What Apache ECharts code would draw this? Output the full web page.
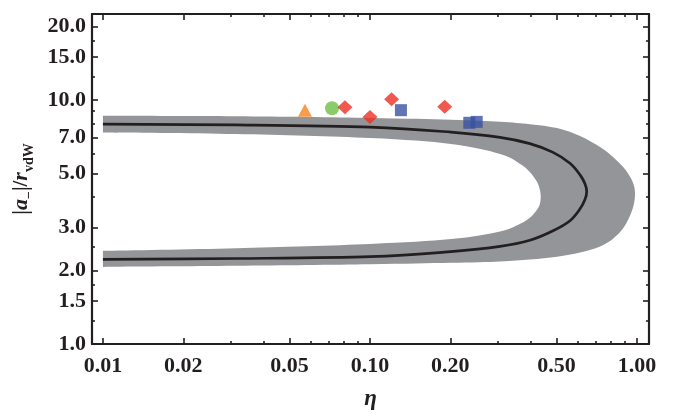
<!DOCTYPE html>
<html><head><meta charset="utf-8">
<script src="https://cdn.jsdelivr.net/npm/echarts@6/dist/echarts.min.js"></script>
<style>html,body{margin:0;padding:0;background:#fff}#c{width:678px;height:416px}</style>
</head><body><div id="c"></div>
<script>
// ---- axis ticks ----
const xTicks = [0.01, 0.02, 0.05, 0.1, 0.2, 0.5, 1.0];
const xMinor = [0.03, 0.04, 0.06, 0.07, 0.08, 0.09, 0.3, 0.4, 0.6, 0.7, 0.8, 0.9];
const yTicks = [1.0, 1.5, 2.0, 3.0, 5.0, 7.0, 10.0, 15.0, 20.0];
const yMinor = [1.25, 1.75, 2.5, 4.0, 6.0, 8.0, 9.0, 12.5, 17.5];
const xRange = [0.0091, 1.109];
const yRange = [1.0, 22.5];

// ---- black curve (upper branch left->right, lower branch right->left) ----
const lineUpper = [[0.01,7.96],[0.0315,7.90],[0.1,7.74],[0.201,7.38],[0.307,7.02],[0.397,6.62],[0.485,6.10],[0.561,5.50],[0.612,4.93],[0.639,4.52],[0.648,4.21]];
const lineLower = [[0.639,3.92],[0.612,3.58],[0.561,3.20],[0.485,2.91],[0.397,2.66],[0.307,2.51],[0.201,2.39],[0.1,2.28],[0.0315,2.24],[0.01,2.22]];

// ---- grey band boundaries ----
const outerUpper = [[0.01,8.61],[0.0315,8.57],[0.1,8.44],[0.201,8.30],[0.307,8.15],[0.397,7.96],[0.502,7.67],[0.612,7.11],[0.727,6.41],[0.813,5.84],[0.886,5.32],[0.942,4.84],[0.974,4.45],[0.983,4.13]];
const outerLower = [[0.974,3.76],[0.942,3.36],[0.886,2.97],[0.813,2.70],[0.727,2.51],[0.612,2.37],[0.502,2.28],[0.397,2.22],[0.307,2.18],[0.201,2.15],[0.1,2.12],[0.0315,2.09],[0.01,2.07]];
const innerUpper = [[0.01,7.36],[0.0315,7.25],[0.1,6.98],[0.201,6.60],[0.307,6.01],[0.365,5.47],[0.397,5.07],[0.422,4.62],[0.433,4.28],[0.436,4.01]];
const innerLower = [[0.433,3.76],[0.422,3.55],[0.397,3.29],[0.365,3.11],[0.307,2.89],[0.201,2.69],[0.1,2.57],[0.0315,2.47],[0.01,2.41]];

// ---- measured points ----
const ptsTriangle = [[0.0571,9.08]];
const ptsCircle = [[0.0721,9.25]];
const ptsDiamond = [[0.0806,9.34],[0.100,8.52],[0.1205,10.06],[0.1905,9.37]];
const ptsSquare = [[0.1306,9.08],[0.2355,8.06],[0.251,8.13]];

const curve = lineUpper.concat(lineLower);
const outerPath = outerUpper.concat(outerLower);
const innerPath = innerUpper.concat(innerLower).reverse();

const INK = '#231f20';
const labelFont = {fontFamily:'Liberation Serif', fontWeight:'bold', fontSize:22, color:INK};

function mkAxis(kind, pos, vals, len, showLabel, showLine, fmt, range){
  return {
    type:'log', logBase:10, position:pos, min:range[0], max:range[1],
    axisLine:{show:showLine, onZero:false, lineStyle:{color:INK, width:2.2}},
    axisTick:{show:true, inside:true, length:len, customValues:vals, lineStyle:{color:INK, width:1.6}},
    axisLabel:Object.assign({show:showLabel, customValues:vals, margin: kind==='x'?11:6, formatter:(v)=>Number(v).toFixed(fmt)}, labelFont),
    splitLine:{show:false}, minorTick:{show:false}, minorSplitLine:{show:false}
  };
}

const xAxes = [
  Object.assign(mkAxis('x','bottom',xTicks,6,true,true,2,xRange),{name:'η',nameLocation:'middle',nameGap:44,
    nameTextStyle:{fontFamily:'Liberation Serif',fontStyle:'italic',fontWeight:'bold',fontSize:23,color:INK}}),
  mkAxis('x','bottom',xMinor,3,false,false,2,xRange),
  mkAxis('x','top',xTicks,6,false,true,2,xRange),
  mkAxis('x','top',xMinor,3,false,false,2,xRange)
];
const yAxes = [
  Object.assign(mkAxis('y','left',yTicks,6,true,true,1,yRange),{name:'|{a|a}{s|−}|/{a|r}{s|vdW}',nameLocation:'middle',nameGap:50,
    nameTextStyle:{fontFamily:'Liberation Serif',fontWeight:'bold',fontSize:21,color:INK,
      rich:{a:{fontFamily:'Liberation Serif',fontStyle:'italic',fontWeight:'bold',fontSize:22,color:INK},
            s:{fontFamily:'Liberation Serif',fontWeight:'bold',fontSize:14,color:INK,verticalAlign:'bottom',padding:[0,0,-4,0]}}}}),
  mkAxis('y','left',yMinor,3,false,false,1,yRange),
  mkAxis('y','right',yTicks,6,false,true,1,yRange),
  mkAxis('y','right',yMinor,3,false,false,1,yRange)
];

// Catmull-Rom through pixel points -> cubic bezier path segments
function crSegs(p){
  let d='';
  for(let i=0;i<p.length-1;i++){
    const p0=p[i-1]||p[i], p1=p[i], p2=p[i+1], p3=p[i+2]||p[i+1];
    const c1=[p1[0]+(p2[0]-p0[0])/6, p1[1]+(p2[1]-p0[1])/6];
    const c2=[p2[0]-(p3[0]-p1[0])/6, p2[1]-(p3[1]-p1[1])/6];
    d+=' C'+c1[0].toFixed(2)+' '+c1[1].toFixed(2)+' '+c2[0].toFixed(2)+' '+c2[1].toFixed(2)+' '+p2[0].toFixed(2)+' '+p2[1].toFixed(2);
  }
  return d;
}

const chart = echarts.init(document.getElementById('c'), null, {renderer:'canvas'});
chart.setOption({
  animation:false,
  backgroundColor:'#fff',
  grid:{left:92, right:29, top:14, bottom:70, containLabel:false},
  xAxis:xAxes,
  yAxis:yAxes,
  series:[
    {type:'custom', xAxisIndex:0, yAxisIndex:0, data:outerPath, encode:{x:0,y:1}, z:1, silent:true,
     renderItem:function(params, api){
       if(params.dataIndex!==0) return null;
       const o = outerPath.map(p=>api.coord(p));
       const n = innerPath.map(p=>api.coord(p));
       const d = 'M'+o[0][0]+' '+o[0][1]+crSegs(o)+' L'+n[0][0]+' '+n[0][1]+crSegs(n)+' Z';
       return {type:'path', shape:{pathData:d}, style:{fill:'#939598', stroke:null}};
     }},
    {type:'custom', xAxisIndex:0, yAxisIndex:0, data:curve, encode:{x:0,y:1}, z:3, silent:true,
     renderItem:function(params, api){
       if(params.dataIndex!==0) return null;
       const c = curve.map(p=>api.coord(p));
       const d = 'M'+c[0][0]+' '+c[0][1]+crSegs(c);
       return {type:'path', shape:{pathData:d}, style:{fill:null, stroke:INK, lineWidth:2.7, lineJoin:'round'}};
     }},
    {type:'scatter', data:ptsTriangle, symbol:'triangle', symbolSize:[14,13], itemStyle:{color:'#f58220'}, z:5},
    {type:'scatter', data:ptsCircle, symbol:'circle', symbolSize:14, itemStyle:{color:'#6dbe45'}, z:5},
    {type:'scatter', data:ptsDiamond, symbol:'diamond', symbolSize:[15,14], itemStyle:{color:'#ed2e24'}, z:5},
    {type:'scatter', data:ptsSquare, symbol:'rect', symbolSize:12, itemStyle:{color:'#3a51a3'}, z:5}
  ]
});
</script>
</body></html>
